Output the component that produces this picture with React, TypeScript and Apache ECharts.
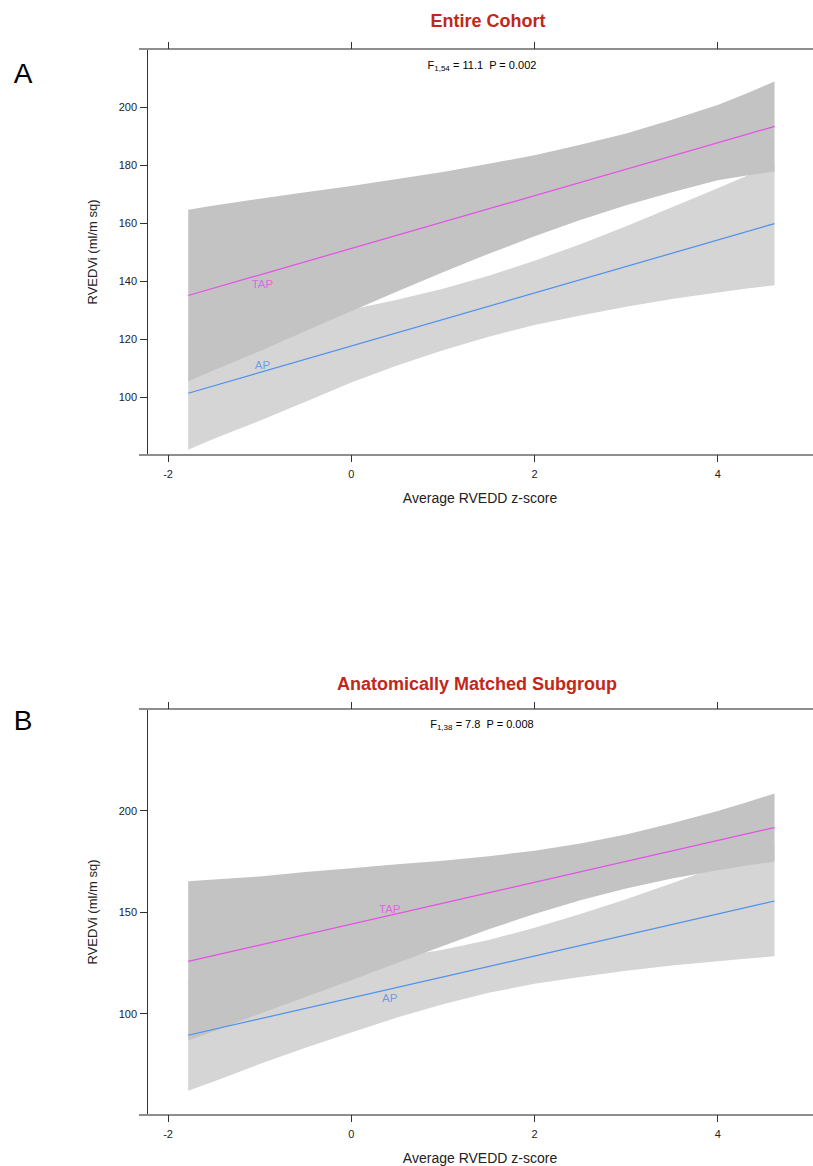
import React, { useEffect, useRef } from "react";
import * as echarts from "echarts";

// ---------- data ----------
const xTicks = [-2, 0, 2, 4];
const yTicksA = [100, 120, 140, 160, 180, 200];
const yTicksB = [100, 150, 200];

const bandX = [-1.78, -1.5, -1, -0.5, 0, 0.5, 1, 1.5, 2, 2.5, 3, 3.5, 4, 4.3, 4.62];

// Panel A: Entire Cohort
const aTapLo = [105.4, 109.2, 115.8, 122.8, 129.6, 136.4, 143.0, 149.4, 155.4, 161.0, 166.1, 170.6, 174.7, 176.3, 177.8];
const aTapHi = [164.6, 166.0, 168.4, 170.6, 172.8, 175.2, 177.6, 180.4, 183.4, 187.0, 190.9, 195.6, 200.7, 204.5, 208.8];
const aApLo = [81.8, 85.6, 91.8, 98.4, 105.0, 110.9, 116.1, 120.8, 124.8, 128.1, 131.1, 133.8, 136.0, 137.3, 138.5];
const aApHi = [120.8, 122.2, 125.0, 127.6, 130.2, 133.5, 137.3, 141.8, 147.0, 152.7, 158.9, 165.4, 172.0, 176.0, 180.4];
const lineX = [-1.78, 4.62];
const aTapLine = [135.0, 193.3];
const aApLine = [101.3, 159.8];
const aTapLabel = [-0.97, 139.1];
const aApLabel = [-0.97, 111.0];

// Panel B: Anatomically Matched Subgroup
const bTapLo = [86.7, 91.2, 99.9, 108.1, 116.4, 124.9, 133.3, 141.5, 149.0, 155.8, 161.6, 166.5, 170.6, 172.8, 174.8];
const bTapHi = [165.1, 166.0, 167.5, 169.7, 171.6, 173.5, 175.3, 177.5, 180.2, 183.8, 188.2, 193.7, 199.8, 203.8, 208.4];
const bApLo = [62.0, 66.5, 75.1, 83.1, 90.7, 98.0, 104.6, 110.2, 114.6, 118.0, 121.1, 123.6, 125.7, 127.0, 128.2];
const bApHi = [116.6, 117.9, 119.7, 121.9, 124.7, 127.8, 131.4, 136.2, 142.2, 149.0, 156.3, 164.2, 172.3, 177.2, 182.6];
const bTapLine = [125.7, 191.6];
const bApLine = [89.3, 155.4];
const bTapLabel = [0.42, 151.6];
const bApLabel = [0.42, 107.7];

const titles = ["Entire Cohort", "Anatomically Matched Subgroup"];
const stats = [
  { sub: "1,54", f: "11.1", p: "0.002" },
  { sub: "1,38", f: "7.8", p: "0.008" },
];

// ---------- style ----------
const FONT = "Liberation Sans, Arial, Helvetica, sans-serif";
const TAP_COLOR = "#e64fe6";
const AP_COLOR = "#4d90ee";
const DARK_BAND = "#c3c3c3";
const LIGHT_BAND = "#d5d5d5";
const RED = "#c1271a";
const X_MIN = -2.23;
const X_MAX = 5.04;

const GRID_LEFT = 147;
const GRID_H = 406;
const GRID_TOPS = [49, 709];

function bandSeries(lo: number[], hi: number[], color: string, xi: number, yi: number) {
  return {
    type: "custom",
    xAxisIndex: xi,
    yAxisIndex: yi,
    silent: true,
    z: 1,
    data: bandX.map((x, i) => [x, lo[i], hi[i]]),
    encode: { x: 0, y: [1, 2] },
    renderItem: (params: any, api: any) => {
      if (params.dataIndex !== 0) return null;
      const pts: number[][] = [];
      for (let i = 0; i < bandX.length; i++) pts.push(api.coord([bandX[i], hi[i]]));
      for (let i = bandX.length - 1; i >= 0; i--) pts.push(api.coord([bandX[i], lo[i]]));
      return { type: "polygon", shape: { points: pts }, style: { fill: color, stroke: null } };
    },
  };
}

function lineSeries(ys: number[], color: string, xi: number, yi: number) {
  return {
    type: "line",
    xAxisIndex: xi,
    yAxisIndex: yi,
    z: 3,
    silent: true,
    showSymbol: false,
    symbol: "none",
    lineStyle: { color, width: 1.2 },
    data: lineX.map((x, i) => [x, ys[i]]),
  };
}

function labelSeries(name: string, pt: number[], color: string, xi: number, yi: number) {
  return {
    type: "scatter",
    xAxisIndex: xi,
    yAxisIndex: yi,
    z: 4,
    silent: true,
    symbolSize: 1,
    itemStyle: { color: "rgba(0,0,0,0)" },
    label: {
      show: true,
      position: "inside",
      formatter: name,
      color,
      fontSize: 11.5,
      fontFamily: FONT,
    },
    data: [pt],
  };
}

function xBottom(gi: number) {
  return {
    type: "value",
    gridIndex: gi,
    position: "bottom",
    min: X_MIN,
    max: X_MAX,
    name: "Average RVEDD z-score",
    nameLocation: "middle",
    nameGap: 36,
    nameTextStyle: { fontSize: 14, color: "#222", fontFamily: FONT },
    axisLine: { show: true, onZero: false, lineStyle: { color: "#8e8e8e", width: 2 } },
    axisTick: { show: true, inside: false, length: 7, customValues: xTicks, lineStyle: { color: "#333", width: 1 } },
    axisLabel: { show: true, customValues: xTicks, margin: 13, fontSize: 11, color: "#222", fontFamily: FONT },
    splitLine: { show: false },
  };
}

function xTop(gi: number) {
  return {
    type: "value",
    gridIndex: gi,
    position: "top",
    min: X_MIN,
    max: X_MAX,
    axisLine: { show: true, onZero: false, lineStyle: { color: "#8e8e8e", width: 2 } },
    axisTick: { show: true, inside: false, length: 7, customValues: xTicks, lineStyle: { color: "#333", width: 1 } },
    axisLabel: { show: false },
    splitLine: { show: false },
  };
}

function yLeft(gi: number, min: number, max: number, ticks: number[]) {
  return {
    type: "value",
    gridIndex: gi,
    min,
    max,
    name: "RVEDVi (ml/m sq)",
    nameLocation: "middle",
    nameRotate: 90,
    nameGap: 48,
    nameTextStyle: { fontSize: 13, color: "#222", fontFamily: FONT },
    axisLine: { show: true, onZero: false, lineStyle: { color: "#333", width: 1 } },
    axisTick: { show: true, inside: false, length: 7, customValues: ticks, lineStyle: { color: "#333", width: 1 } },
    axisLabel: { show: true, customValues: ticks, margin: 10, fontSize: 11, color: "#222", fontFamily: FONT },
    splitLine: { show: false },
  };
}

function statText(i: number, cx: number, cy: number) {
  const s = stats[i];
  return {
    type: "text",
    x: cx,
    y: cy,
    style: {
      text: `{a|F}{s|${s.sub}}{a| = ${s.f}  P = ${s.p}}`,
      align: "center",
      verticalAlign: "middle",
      rich: {
        a: { fontSize: 11, color: "#222", fontFamily: FONT, lineHeight: 14 },
        s: { fontSize: 8, color: "#222", fontFamily: FONT, lineHeight: 14, padding: [6, 0, 0, 0] },
      },
    },
  };
}

export default function App() {
  const ref = useRef<HTMLDivElement>(null);
  useEffect(() => {
    if (!ref.current) return;
    const chart = echarts.init(ref.current, null, { renderer: "svg" });
    const graphics: any[] = [
      { type: "text", x: 488, y: 21, style: { text: titles[0], fill: RED, fontSize: 18, fontWeight: "bold", fontFamily: FONT, align: "center", verticalAlign: "middle" } },
      { type: "text", x: 477, y: 684, style: { text: titles[1], fill: RED, fontSize: 18, fontWeight: "bold", fontFamily: FONT, align: "center", verticalAlign: "middle" } },
      { type: "text", x: 23, y: 73, style: { text: "A", fill: "#000", fontSize: 28, fontFamily: FONT, align: "center", verticalAlign: "middle" } },
      { type: "text", x: 23, y: 720, style: { text: "B", fill: "#000", fontSize: 28, fontFamily: FONT, align: "center", verticalAlign: "middle" } },
      statText(0, 482, 65),
      statText(1, 482, 724),
    ];
    GRID_TOPS.forEach((t) => {
      [t, t + GRID_H].forEach((y) => {
        graphics.push({ type: "line", shape: { x1: 139, y1: y, x2: GRID_LEFT, y2: y }, style: { stroke: "#8e8e8e", lineWidth: 2 } });
      });
    });

    chart.setOption({
      animation: false,
      backgroundColor: "#fff",
      textStyle: { fontFamily: FONT },
      grid: GRID_TOPS.map((t) => ({ left: GRID_LEFT, top: t, right: 0, height: GRID_H, containLabel: false })),
      xAxis: [xBottom(0), xTop(0), xBottom(1), xTop(1)],
      yAxis: [yLeft(0, 80, 220, yTicksA), yLeft(1, 50, 250, yTicksB)],
      graphic: graphics,
      series: [
        bandSeries(aApLo, aApHi, LIGHT_BAND, 0, 0),
        bandSeries(aTapLo, aTapHi, DARK_BAND, 0, 0),
        lineSeries(aTapLine, TAP_COLOR, 0, 0),
        lineSeries(aApLine, AP_COLOR, 0, 0),
        labelSeries("TAP", aTapLabel, TAP_COLOR, 0, 0),
        labelSeries("AP", aApLabel, AP_COLOR, 0, 0),
        bandSeries(bApLo, bApHi, LIGHT_BAND, 2, 1),
        bandSeries(bTapLo, bTapHi, DARK_BAND, 2, 1),
        lineSeries(bTapLine, TAP_COLOR, 2, 1),
        lineSeries(bApLine, AP_COLOR, 2, 1),
        labelSeries("TAP", bTapLabel, TAP_COLOR, 2, 1),
        labelSeries("AP", bApLabel, AP_COLOR, 2, 1),
      ],
    });
    return () => chart.dispose();
  }, []);
  return <div ref={ref} style={{ position: "absolute", left: 0, top: 0, width: 813, height: 1166 }} />;
}
